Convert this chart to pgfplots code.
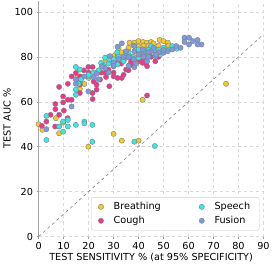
\documentclass[border=0pt]{standalone}
\usepackage{pgfplots}
\pgfplotsset{compat=1.18}
\usepackage{fontspec}
\setmainfont{DejaVu Sans}
\definecolor{cbreath}{HTML}{F2C92E}
\definecolor{ccough}{HTML}{E8398C}
\definecolor{cspeech}{HTML}{3BE6E6}
\definecolor{cfusion}{HTML}{7B9BE0}
\definecolor{gridc}{HTML}{D9D9D9}
\pgfplotsset{dot/.style={only marks, mark=*, mark size=2.6pt, mark options={fill=#1, draw=gray, line width=0.4pt}}}
\begin{document}
\begin{tikzpicture}
\begin{axis}[
  scale only axis,
  width=223pt, height=234pt,
  xmin=0, xmax=90, ymin=0, ymax=105,
  xtick={0,10,...,90}, ytick={0,20,...,100},
  grid=major,
  grid style={dashed, gridc, line width=0.5pt},
  axis x line*=bottom, axis y line*=left,
  x axis line style={draw=none},
  y axis line style={draw=gray!70, line width=1.3pt},
  tick align=outside, major tick length=2pt,
  tick style={gray!80, line width=0.5pt},
  font=\fontsize{9.6}{11}\selectfont,
  /pgf/number format/assume math mode=true,
  xlabel={TEST SENSITIVITY \% (at 95\% SPECIFICITY)},
  ylabel={TEST AUC \%},
  xlabel style={yshift=3pt},
  ylabel style={yshift=-3pt},
  legend columns=2,
  transpose legend,
  legend style={at={(0.982,0.026)}, anchor=south east, draw=gray!40, rounded corners=2pt,
    font=\fontsize{9.6}{11}\selectfont, row sep=1pt, inner xsep=7pt, inner ysep=3pt,
    /tikz/every odd column/.append style={column sep=8pt},
    /tikz/every even column/.append style={column sep=36pt}},
  legend cell align=left,
]
\addplot[dot=cbreath] coordinates {
(0,50)(1.5,47.5)(6.9,52.7)(8.2,46)(9.8,50.7)(16.5,65.7)(18.3,67.9)(19.9,40)
(30,45.7)(33.3,42.7)(40,42.7)(41.6,60.9)(75,68)
(36.4,86.3)(38.3,86.3)(40,87)(41.8,86.6)(43.4,86.3)(45,86.6)(48.4,87.5)(50,87)(51.7,86.3)
(32,84)(30,80.3)(28,79.9)(31.6,79.9)(27,78.4)(40,84.6)(43.4,84)(46.7,83.3)(51.5,84.8)
(15.5,71.3)(20,70.6)(24.6,73.6)
(34,82)(36,84)(38,85)(42,85)(46,86)(48,85)(33,82)(29,78)(44,85)(52,85)(54,84)(40,82)
};
\addlegendentry{Breathing}
\addplot[dot=ccough] coordinates {
(1.3,49.3)(3.1,51.2)(4.8,54.2)(6.7,59)(6.7,56.7)(8.2,54.2)(8.2,66.6)(6.6,49)
(9.8,62.4)(9.8,59.7)(10.1,56.1)(11.7,60.9)(11.7,68)(13.2,71.3)(13.2,60.9)(11.6,52.7)
(14.9,72.8)(16.5,71.3)(16.5,69.1)(16.5,67.6)(18.1,74)(21.6,75.5)(21.6,63.9)(21.6,61.2)
(23.2,67.6)(23.2,65.4)(24.6,69.9)(26.6,72.8)(28,74.3)(28.3,66.9)(30,71.3)(31.6,70.6)
(33.3,70.6)(30,75.8)(31.6,77.3)(35,74.3)(36.7,76.6)(40,78)(41.6,77.3)(43.4,75.8)
(46.7,78)(43.4,62.8)(19.9,75.5)(16.5,63.9)
(34,72)(36,74)(38,76)(42,79)(45,80)(48,80)(37,78)(25,73)(27,71)(22,69)(20,73)(33,77)(30,73)(43,77)
};
\addlegendentry{Cough}
\addplot[dot=cspeech] coordinates {
(3.1,53.7)(3.1,43)(8.2,49)(9.8,51.2)(9.8,46.7)(11.7,51.9)(11.7,49)(14.9,49.7)
(14.9,75.5)(16.5,74.3)(14.9,65.4)(14.9,63.1)(18.3,51.2)(18.3,50.4)(21.5,49.7)(21.5,42.2)
(19.9,71.3)(23.2,72.8)(25,77.3)(26.6,79.6)(28.3,78.8)(31.6,76.6)(33.3,78.8)(35.1,81.8)
(38.3,42.2)(46.5,40.3)(36.7,80.3)(40,79.6)(43.4,81.8)(45,84.8)(46.7,81.8)(50,84)
(53.5,84.8)(55.3,83.6)(31.4,82)(40,83.3)(48.6,81)
(30,79)(32,80)(34,78)(36,82)(38,80)(42,82)(44,83)(46,83)(48,83)(50,82)(52,83)
(24,74)(26,76)(28,77)(20,72)(22,73)(17,70)(16,68)
};
\addlegendentry{Speech}
\addplot[dot=cfusion] coordinates {
(3.1,47.8)(13.2,57.9)(14.9,68)(19.9,64.6)(23.2,72.5)(26.6,75)(30,77.3)(31.6,84.5)
(33.3,86)(35.1,79.6)(38.3,75.4)(38.3,82.5)(41.8,81)(43.4,78)(45,82.5)(46.7,80.3)
(50,81.8)(51.7,82.5)(53.5,83.3)(56.8,84)(58.4,88.5)(60.2,88.5)(58.4,86.6)(61.8,87)
(63.6,87.5)(65.2,85.5)(60.2,85.5)(63.6,85.5)(55.1,84.8)(38.3,84.8)(41.8,83.3)(35.1,82.5)
(28.6,80.3)(25.3,75.8)(18.3,71.3)(14.9,69.9)
(32,79)(34,80)(36,80)(38,79)(40,81)(42,80)(44,82)(46,84)(48,82)(50,83)
(36,76)(39,77)(44,80)(47,81)(30,76)(28,73)(24,70)(22,71)
};
\addlegendentry{Fusion}
\addplot[mark=none, sharp plot, dashed, gray, line width=0.6pt, forget plot] coordinates {(0,0)(90,90)};
\end{axis}
\end{tikzpicture}
\end{document}
